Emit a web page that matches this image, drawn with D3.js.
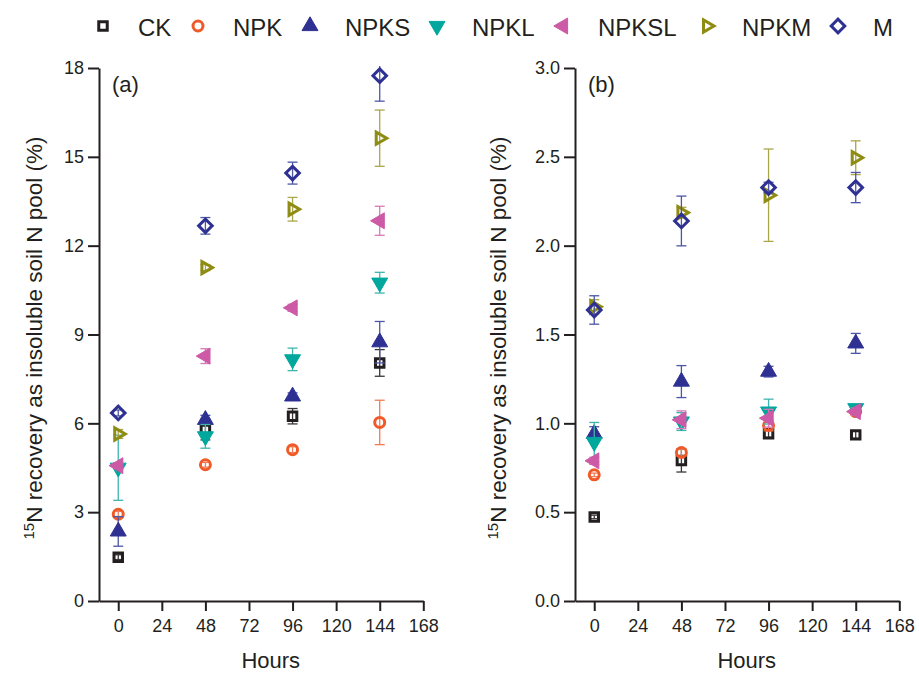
<!DOCTYPE html>
<html>
<head>
<meta charset="utf-8">
<script src="https://cdn.jsdelivr.net/npm/d3@7"></script>
<style>
  body { margin: 0; background: #fff; }
  text { font-family: "Liberation Sans", Arial, sans-serif; fill: #231f20; }
  .axis path, .axis line { stroke: #231f20; stroke-width: 2; }
  .axis text { font-size: 18px; fill: #231f20; }
</style>
</head>
<body>
<svg id="svg" width="919" height="674"></svg>
<script>
// sampling times (h)
const hours = [0, 48, 96, 144];
const xTicks = [0, 24, 48, 72, 96, 120, 144, 168];
const yTicksA = [0, 3, 6, 9, 12, 15, 18];
const yTicksB = [0, 0.5, 1.0, 1.5, 2.0, 2.5, 3.0];
const treatments = ["CK", "NPK", "NPKS", "NPKL", "NPKSL", "NPKM", "M"];

// (a) values and SE
const ckA = [1.48, 5.79, 6.24, 8.04],     ckAErr = [0.08, 0.35, 0.26, 0.45];
const npkA = [2.93, 4.6, 5.11, 6.03],     npkAErr = [0.1, 0.08, 0.1, 0.75];
const npksA = [2.35, 6.12, 6.91, 8.74],   npksAErr = [0.5, 0.15, 0.12, 0.7];
const npklA = [4.5, 5.56, 8.16, 10.75],   npklAErr = [1.1, 0.4, 0.38, 0.35];
const npkslA = [4.57, 8.27, 9.9, 12.84],  npkslAErr = [0.1, 0.25, 0.12, 0.49];
const npkmA = [5.64, 11.26, 13.23, 15.63], npkmAErr = [0.15, 0.1, 0.4, 0.95];
const mA = [6.35, 12.67, 14.45, 17.74],   mAErr = [0.1, 0.28, 0.37, 0.86];

// (b)
const ckB = [0.473, 0.791, 0.941, 0.935],  ckBErr = [0.01, 0.065, 0.02, 0.02];
const npkB = [0.71, 0.836, 0.988, 1.066],  npkBErr = [0.01, 0.02, 0.03, 0.02];
const npksB = [0.941, 1.235, 1.291, 1.45], npksBErr = [0.04, 0.09, 0.03, 0.056];
const npklB = [0.895, 1.01, 1.066, 1.085], npklBErr = [0.11, 0.05, 0.07, 0.02];
const npkslB = [0.789, 1.02, 1.029, 1.066], npkslBErr = [0.02, 0.05, 0.05, 0.02];
const npkmB = [1.656, 2.186, 2.284, 2.495], npkmBErr = [0.04, 0.03, 0.26, 0.095];
const mB = [1.638, 2.139, 2.327, 2.327],   mBErr = [0.08, 0.14, 0.03, 0.085];

const meansA = [ckA, npkA, npksA, npklA, npkslA, npkmA, mA];
const errsA = [ckAErr, npkAErr, npksAErr, npklAErr, npkslAErr, npkmAErr, mAErr];
const meansB = [ckB, npkB, npksB, npklB, npkslB, npkmB, mB];
const errsB = [ckBErr, npkBErr, npksBErr, npklBErr, npkslBErr, npkmBErr, mBErr];

// marker styles per treatment
const colors = ["#231f20", "#f05a28", "#2e3192", "#00a79d", "#cc5aa7", "#8f8c14", "#2e3192"];
const errColors = ["#3a3637", "#f37a52", "#4d55a5", "#3db5ad", "#d67bb8", "#aaa64a", "#4d55a5"];
const filled = [false, false, true, true, true, false, false];
const shapes = [d3.symbolSquare, d3.symbolCircle, d3.symbolTriangle, d3.symbolTriangle,
                d3.symbolTriangle, d3.symbolTriangle, d3.symbolSquare];
const sizes = [72, 78, 110, 110, 110, 64, 92];
const rotations = [0, 0, 0, 180, -90, 90, 45];

const svg = d3.select("#svg");

function marker(sel, i) {
  sel.append("path")
    .attr("d", d3.symbol().type(shapes[i]).size(sizes[i]))
    .attr("transform", "rotate(" + rotations[i] + ")")
    .attr("fill", filled[i] ? colors[i] : "none")
    .attr("stroke", colors[i])
    .attr("stroke-width", filled[i] ? 1 : 3)
    .attr("stroke-linejoin", "miter");
}

function panel(id, left, yDomain, yTicks, fmt, means, errs, label, titleX) {
  const x = d3.scaleLinear().domain([-10.6, 168]).range([left, left + 324.3]);
  const y = d3.scaleLinear().domain(yDomain).range([601, 68]);
  const g = svg.append("g");

  svg.append("clipPath").attr("id", id)
    .append("rect").attr("x", left - 20).attr("y", 66).attr("width", 360).attr("height", 560);

  g.append("g").attr("class", "axis")
    .attr("transform", "translate(0,601)")
    .call(d3.axisBottom(x).tickValues(xTicks).tickSize(10).tickSizeOuter(0).tickPadding(8));
  g.append("g").attr("class", "axis")
    .attr("transform", "translate(" + left + ",0)")
    .call(d3.axisLeft(y).tickValues(yTicks).tickFormat(fmt).tickSize(11).tickSizeOuter(0).tickPadding(4));

  const plot = g.append("g").attr("clip-path", "url(#" + id + ")");
  treatments.forEach(function(t, i) {
    hours.forEach(function(h, j) {
      const cx = x(h), v = means[i][j], e = errs[i][j];
      const eg = plot.append("g").attr("stroke", errColors[i]).attr("stroke-width", 1.3);
      eg.append("line").attr("x1", cx).attr("x2", cx).attr("y1", y(v - e)).attr("y2", y(v + e));
      eg.append("line").attr("x1", cx - 5).attr("x2", cx + 5).attr("y1", y(v - e)).attr("y2", y(v - e));
      eg.append("line").attr("x1", cx - 5).attr("x2", cx + 5).attr("y1", y(v + e)).attr("y2", y(v + e));
      plot.append("g").attr("transform", "translate(" + cx + "," + y(v) + ")").call(marker, i);
    });
  });

  g.append("text").attr("x", left + 13).attr("y", 92).attr("font-size", 22).text(label);
  g.append("text").attr("x", x(84)).attr("y", 668).attr("font-size", 22)
    .attr("text-anchor", "middle").text("Hours");

  const title = g.append("text")
    .attr("transform", "translate(" + titleX + ",338) rotate(-90)")
    .attr("text-anchor", "middle").attr("font-size", 22.5);
  title.append("tspan").attr("font-size", 15).attr("dy", -8).text("15");
  title.append("tspan").attr("dy", 8).text("N recovery as insoluble soil N pool (%)");
}

panel("clipA", 99, [0, 18], yTicksA, d3.format("d"), meansA, errsA, "(a)", 42);
panel("clipB", 575, [0, 3], yTicksB, d3.format(".1f"), meansB, errsB, "(b)", 506);

// legend across the top
const legendX = [103, 198, 310, 437, 563, 707, 838];
const leg = svg.append("g");
treatments.forEach(function(t, i) {
  leg.append("g").attr("transform", "translate(" + legendX[i] + ",26)").call(marker, i);
  leg.append("text").attr("x", legendX[i] + 35).attr("y", 36).attr("font-size", 24).text(t);
});
</script>
</body>
</html>
